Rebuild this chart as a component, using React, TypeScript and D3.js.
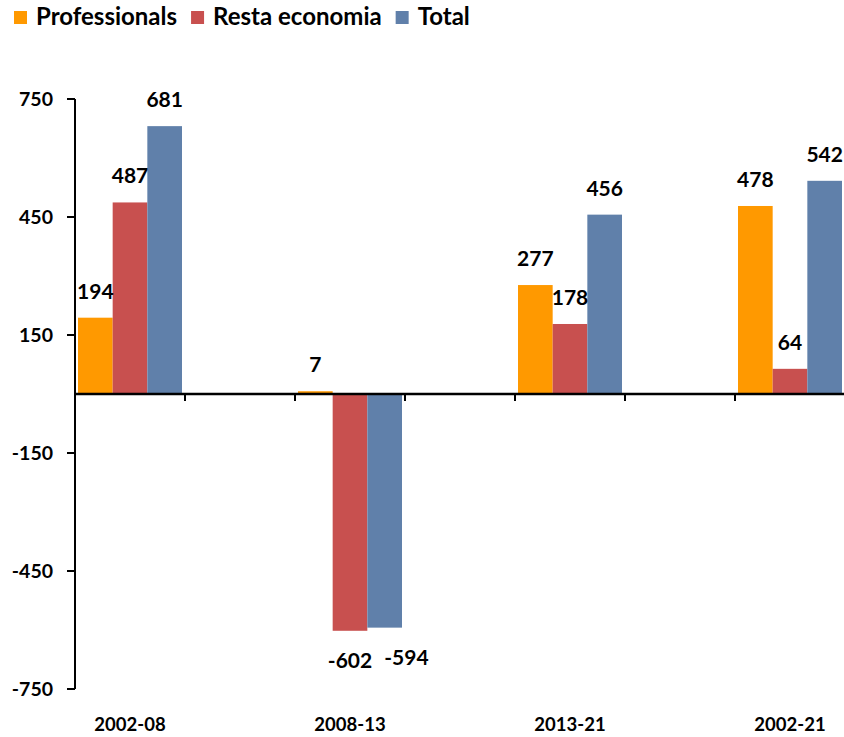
import React, {useEffect, useRef} from 'react';
import * as d3 from 'd3';

const categories = ['2002-08', '2008-13', '2013-21', '2002-21'];
const seriesNames = ['Professionals', 'Resta economia', 'Total'];
const professionals = [194, 7, 277, 478];
const restaEconomia = [487, -602, 178, 64];
const total = [681, -594, 456, 542];
const yTicks = [-750, -450, -150, 150, 450, 750];
const colors = ['#ff9900', '#c8504f', '#6080aa'];

const W = 844;
const H = 737;
const FONT = 'Lato, "Open Sans", sans-serif';

const App = (): JSX.Element => {
    const svgRef = useRef<SVGSVGElement>(null);

    useEffect(() => {
        const svg = d3.select(svgRef.current);
        svg.selectAll('*').remove();

        const series = [professionals, restaEconomia, total];

        // 7 slots: categories sit in every other slot (empty ones between)
        const slots = d3.range(categories.length * 2 - 1);
        const x0 = d3.scaleBand<number>().domain(slots).range([75, 845]).padding(0);
        const x1 = d3.scaleBand<string>().domain(seriesNames).range([3, x0.bandwidth() - 3]).padding(0);
        const y = d3.scaleLinear().domain([-750, 750]).range([689, 99]);

        // bars
        const g = svg.append('g');
        categories.forEach((cat, i) => {
            const gx = x0(i * 2)!;
            seriesNames.forEach((s, j) => {
                const v = series[j][i];
                g.append('rect')
                    .attr('x', gx + x1(s)!)
                    .attr('y', y(Math.max(0, v)))
                    .attr('width', x1.bandwidth())
                    .attr('height', Math.abs(y(v) - y(0)))
                    .attr('fill', colors[j]);
            });
        });

        // y axis
        svg.append('line')
            .attr('x1', 75).attr('x2', 75).attr('y1', y(750)).attr('y2', y(-750))
            .attr('stroke', '#000').attr('stroke-width', 2);
        yTicks.forEach(t => {
            svg.append('line')
                .attr('x1', 67).attr('x2', 75).attr('y1', y(t)).attr('y2', y(t))
                .attr('stroke', '#000').attr('stroke-width', 2);
            svg.append('text')
                .attr('x', 53).attr('y', y(t)).attr('dy', '0.35em')
                .attr('text-anchor', 'end')
                .attr('font-family', FONT).attr('font-weight', 700).attr('font-size', 19.5)
                .text(t);
        });

        // x axis on zero line
        svg.append('line')
            .attr('x1', 74).attr('x2', W).attr('y1', y(0)).attr('y2', y(0))
            .attr('stroke', '#000').attr('stroke-width', 2.5);
        slots.forEach(s => {
            const tx = x0(s)! + x0.bandwidth();
            svg.append('line')
                .attr('x1', tx).attr('x2', tx).attr('y1', y(0)).attr('y2', y(0) + 7)
                .attr('stroke', '#000').attr('stroke-width', 2);
        });
        categories.forEach((cat, i) => {
            svg.append('text')
                .attr('x', x0(i * 2)! + x0.bandwidth() / 2).attr('y', 731)
                .attr('text-anchor', 'middle')
                .attr('font-family', FONT).attr('font-weight', 700).attr('font-size', 18.5)
                .text(cat);
        });

        // data labels, shifted right when they would overlap the previous one
        categories.forEach((cat, i) => {
            const gx = x0(i * 2)!;
            let prevRight = -Infinity;
            let prevNeg = false;
            seriesNames.forEach((s, j) => {
                const v = series[j][i];
                const cx = gx + x1(s)! + x1.bandwidth() / 2;
                const t = svg.append('text')
                    .attr('x', cx)
                    .attr('y', v >= 0 ? y(v) - 19 : y(v) + 37)
                    .attr('text-anchor', 'middle')
                    .attr('font-family', FONT).attr('font-weight', 700).attr('font-size', 21)
                    .attr('fill', '#000')
                    .text(v);
                const w = (t.node() as SVGTextElement).getComputedTextLength();
                if (v < 0 && prevNeg && cx - w / 2 < prevRight + 8) {
                    t.attr('x', prevRight + 12 + w / 2);
                }
                prevRight = +t.attr('x') + w / 2;
                prevNeg = v < 0;
            });
        });

        // legend
        const legend = svg.append('g');
        let lx = 14;
        seriesNames.forEach((s, j) => {
            legend.append('rect')
                .attr('x', lx).attr('y', 11).attr('width', 13).attr('height', 13)
                .attr('fill', colors[j]);
            const t = legend.append('text')
                .attr('x', lx + 22).attr('y', 25)
                .attr('font-family', FONT).attr('font-weight', 700).attr('font-size', 24)
                .text(s);
            lx += 22 + (t.node() as SVGTextElement).getComputedTextLength() + 14;
        });
    }, []);

    return (
        <svg
            ref={svgRef}
            width={W}
            height={H}
            viewBox={`0 0 ${W} ${H}`}
            style={{position: 'absolute', left: 0, top: 0, background: '#fff'}}
        />
    );
};

export default App;
